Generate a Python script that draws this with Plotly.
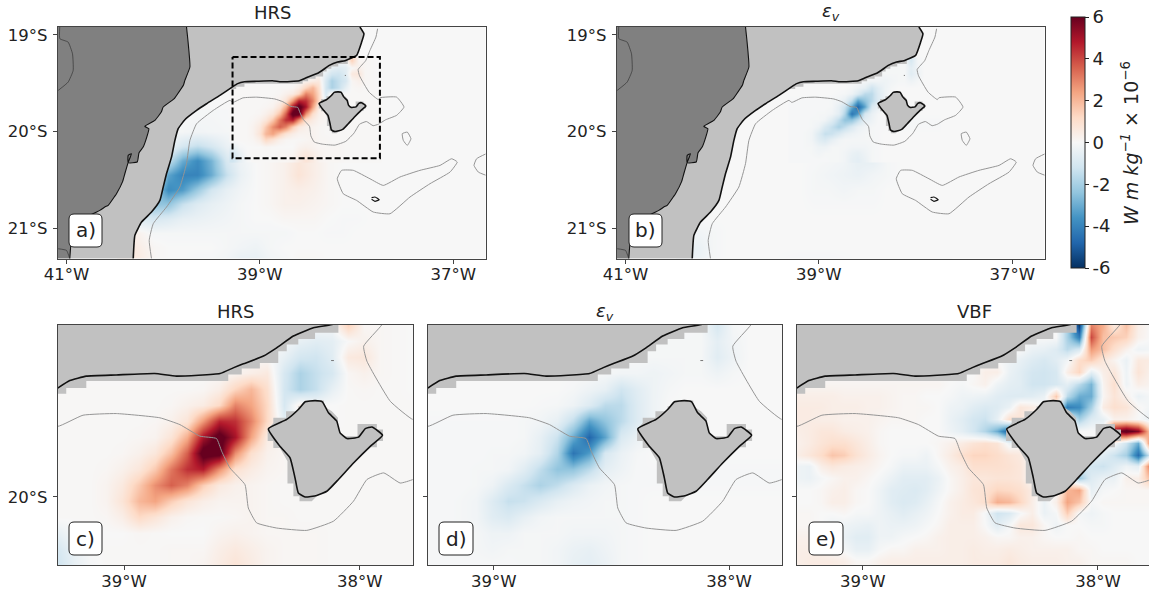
import numpy as np
import plotly.graph_objects as go

W, H = 1149, 594

# ---------- axes extents ----------
WIDE_LON = [-41.088, -36.667]
WIDE_LAT = [-21.315, -18.92]
ZOOM_LON = [-39.28, -37.776]
ZOOM_LAT = [-20.289, -19.27]

# ---------- field grids (values in W m/kg x 1e-6) ----------
GRID_LON = [-39.28 + 0.0683 * i for i in range(23)]
GRID_LAT = [-19.27 - 0.068 * j for j in range(16)]

HRS_ZOOM = [
    [0]*17 + [-.1, 1.4, .1, .1, .05, 0],
    [0]*14 + [-.1, -.5, -.7, -.6, 0, .3, .1, .05, 0],
    [0]*13 + [0, -.5, -1.1, -1.2, -.7, .6, .7, .1, .05, 0],
    [0]*11 + [.2, .4, .6, -1, -1.9, -1.4, -1, .1, .3, .1, .05, 0],
    [.05]*9 + [.1, .4, 1.3, 2, 1, -1.1, -1.9, -1.4, -.5, .05, .1, .05, .05, 0],
    [.05]*7 + [.1, .3, .5, 1.2, 3, 2.4, 1.2, -1, .4, 0, 0, .05, .05, .05, .05, .05],
    [.05]*6 + [.1, .3, .8, 2.6, 4.6, 4.4, 3, 1.2, -.6, 0, 0, 0, .05, .05, .05, .05, .05],
    [.05]*5 + [.1, .2, .8, 2.2, 5, 6.5, 5, 2.4, .5, .1, 0, 0, .05, .05, .05, .05, .05, .05],
    [.05]*4 + [.1, .3, .7, 1.8, 3.6, 6.5, 6.5, 2.8, 1, .3, .1, 0, 0, .05, .05, .05, .05, .05, .05],
    [.05]*3 + [.1, .3, .7, 1.6, 3.2, 4.4, 4.8, 2.8, 1, .5, .2, .1] + [.05]*8,
    [.05]*3 + [.2, .6, 1.6, 2.8, 3.6, 3, 1.5, .6, .3, .2, .1] + [.05]*9,
    [.05]*3 + [.2, .8, 2, 2.4, 1.5, .8, .4, .2, .2, .2, .1] + [.05]*9,
    [.05]*3 + [.1, .4, 1.2, .8, .3, .1, .05, .05, .1, .2, .1, .1] + [.05]*8,
    [-.5, -.1, 0, 0, 0, .1, .05, 0, 0, 0, .2, .3, .2, .1, .1, .1, .1] + [.05]*6,
    [-1, -.4, 0, .05, .05, .05, .05, .1, .1, .1, .4, .6, .4, .2, .1, .1, .1] + [.05]*6,
    [-1.2, -.5, -.1, .05, .05, .05, .05, .1, .1, .2, .5, .8, .5, .2, .1, .1, .1] + [.05]*6,
]

EPS_ZOOM = [
    [0]*17 + [-.1, -1, -.1, 0, 0, 0],
    [0]*14 + [-.1, -.1, -.1, -.1, -.6, -.2, 0, 0, 0],
    [0]*13 + [-.05, -.1, -.1, -.1, -.1, -.7, -.3, 0, 0, 0],
    [0]*11 + [-.1, -.2, -.2, -.3, -.2, -.1, -.1, -.3, -.1, 0, 0, 0],
    [0]*9 + [-.1, -.3, -.5, -1.2, -.7, -.3, -.1] + [0]*7,
    [0]*7 + [-.05, -.1, -.3, -.8, -1.6, -1.6, -.8, -.3, 0] + [0]*7,
    [-.05]*6 + [-.1, -.2, -.5, -1.5, -3.2, -2.4, -1.6, -.8, -.3, -.1] + [0]*7,
    [-.05]*5 + [-.05, -.1, -.5, -1.3, -3, -4.8, -3.2, -.9, -.4, -.1] + [0]*8,
    [-.05]*4 + [-.1, -.1, -.2, -.6, -1.8, -4.4, -3.4, -1, -.4, -.1] + [0]*9,
    [-.05]*3 + [-.1, -.1, -.2, -.7, -1.5, -2.4, -2.4, -1.6, -.6, -.3] + [-.05]*10,
    [-.05]*3 + [-.1, -.3, -.9, -1.4, -1.9, -1.5, -.9, -.4, -.2, -.1] + [-.05]*10,
    [-.05, -.05, -.1, -.2, -.8, -1.4, -1.3, -.9, -.5, -.3, -.2, -.1, -.1, -.05] + [0]*9,
    [-.05, -.05, -.1, -.2, -.7, -.9, -.5, -.2, -.1, -.1, -.1, -.1, -.1, -.05] + [0]*9,
    [-.05, -.05, -.1, -.1, -.3, -.3, -.1, -.1, -.1, -.2, -.2, -.2, -.1, -.05] + [0]*9,
    [-.05, -.05, -.05, -.1, -.2, -.1, -.1, -.1, -.2, -.4, -.5, -.3, -.1, -.05] + [0]*9,
    [-.05]*6 + [-.1, -.1, -.2, -.5, -.6, -.4, -.1, -.05] + [0]*9,
]

VBF_LON = [-39.28 + 0.05 * i for i in range(31)]
VBF_LAT = [-19.27 - 0.05 * j for j in range(21)]
VBF_ZOOM = [
    [0]*23 + [-2, -5.8, 3, 2.2, .6, 1.8, .4, 0],
    [0]*22 + [0, -2, -4.2, 4, 1.8, 1.6, 1.4, .3, 0],
    [0]*20 + [-.4, -.5, -.8, -1.6, -1, 2.6, 1.8, 1, .3, -.3, -.2],
    [0]*17 + [0, -.3, -.5, -.8, -1, -.7, -.2, 1.1, 1.5, .7, .2, -.4, .6, .5],
    [0]*16 + [.4, .4, -.4, -.7, -1.1, -1.2, -1, .4, 1.3, -.6, .4, .7, -.3, .8, .3],
    [.15]*13 + [0, -.1, .1, .3, -.3, -.6, -.7, -1.2, -1.2, -1, -.6, -1.6, -2.8, .2, 1, -.3, .4, .2],
    [.4, .4, .4, .4, .3, .3, .3, .3, .2, .1, .1, 0, 0, -.1, -.3, -.3, -.4, -.7, -.8, -.8, -.7, -.4, 1.6, -1.6, -3, -3, .1, .8, .3, -.4, -.1],
    [.5, .5, .5, .4, .4, .4, .3, .3, .2, .1, .1, .1, 0, -.3, -.4, -.7, -.9, -.8, -.4, .7, .5, 0, 0, -4.2, -3.8, -2, .5, 1, .8, .1, -.2],
    [.5, .5, .4, .4, .3, .3, .3, .2, .1, .1, .1, 0, 0, -.4, -.7, -1.1, -1.3, -.5, 1, .8, 0, 0, 0, 0, -2, -.8, -.5, .3, .3, 0, -.5],
    [.4, .5, .7, .7, .5, .4, .3, .1, 0, 0, 0, 0, 0, -.3, -.6, -1.1, -1.8, -3, -5, -3, 0, 0, 0, 0, 0, 0, 0, 5.5, 6.5, 5.5, 1.5],
    [.3, .5, .8, 1, 1, .7, .4, .1, 0, 0, 0, 0, .1, .3, .5, .8, 1, .8, -.3, 0, 0, 0, 0, 0, 0, 0, 0, 0, -1.2, -3, 3.2],
    [.4, .7, 1.1, 1.7, 1.5, .9, .5, .2, 0, -.1, -.1, -.3, .1, .5, 1, 1.3, 1.3, 1.1, .8, .6, 0, 0, 0, 0, 0, -.4, -.7, -1.3, -2, -4.6, -1],
    [-.3, -.4, .4, .7, .5, .4, .3, .1, -.1, -.4, -.4, -.4, -.1, .3, .5, 1, 1, 1, .9, .7, 0, 0, 0, 0, -.8, -1.1, -1.3, -.8, -.3, -.6, 3.4],
    [-.3, -.4, -.1, .1, .3, .3, .1, -.1, -.4, -.7, -.7, -.7, -.4, .1, .4, .7, .7, .8, .8, .7, 0, 0, 0, .4, -2.2, -.8, -.4, -.4, .3, .4, 1.9],
    [0, 0, .1, .3, .4, .1, 0, -.3, -.7, -.8, -.9, -.7, -.3, .1, .4, .8, .9, 1.3, 1.2, 1, .5, 0, 0, 2, 2.4, -.5, -.1, 0, .1, .1, .1],
    [0, 0, .1, .4, .4, .1, 0, -.3, -.7, -.9, -.8, -.5, -.1, .3, .5, .7, 1, 2.2, 2, 1.3, .4, -.4, .4, 2.4, 1.7, -.1, .1, .1, .1, .1, .1],
    [.1, .1, 0, 0, .1, -.1, -.1, -.3, -.5, -.7, -.5, -.3, 0, .3, .5, .5, -.1, -1.2, -.9, -.1, .4, -.4, -.1, 1.5, -.1, -.3, -.1, 0, 0, 0, 0],
    [.1, .1, 0, -.3, -.3, -.4, -.5, -.3, -.4, -.4, -.3, -.1, .1, .4, .4, .4, 0, -.7, -.1, .7, .7, .1, -.3, 0, 0, -.1, -.1, 0, 0, 0, 0],
    [.3, .3, 0, -.1, -.4, -.7, -.7, -.3, -.3, -.1, 0, .1, .3, .4, .4, .4, .3, .1, .1, .3, .3, .1, 0, 0, .1, 0, 0, 0, 0, 0, 0],
    [.4, .4, .3, 0, -.1, -.5, -.5, -.1, .1, .1, .3, .3, .3, .4, .4, .5, .4, .4, .5, .4, .3, .3, .3, .3, .1, .1, 0, 0, 0, 0, 0],
    [.4, .5, .5, .5, .4, .1, .1, .3, .4, .4, .4, .4, .4, .4, .4, .5, .5, .5, .7, .5, .4, .4, .4, .3, .3, .1, .1, .1, .1, 0, 0],
]

WIDE_GRID_LON = [-40.4, -40.25, -40.1, -39.95, -39.8, -39.65, -39.5, -39.35, -39.2, -39.05,
                 -38.9, -38.75, -38.6, -38.45, -38.3, -38.15, -38.0, -37.85, -37.7]
WIDE_GRID_LAT = [-19.85, -20.0, -20.15, -20.3, -20.45, -20.6, -20.75, -20.9, -21.05, -21.2, -21.35]
HRS_WIDE = [
    [0, 0, 0, 0, 0, -.1, -.1, -.05, 0, 0, 0, 0, 0, 0, 0, 0, 0, 0, 0],
    [0, 0, 0, 0, -.1, -.2, -.15, -.1, -.1, 0, 0, 0, 0, 0, 0, 0, 0, 0, 0],
    [0, 0, 0, -.3, -1, -1.4, -1, -.4, -.1, 0, .1, .1, .2, .1, 0, 0, 0, 0, 0],
    [0, 0, 0, -1.4, -3, -3.8, -2.8, -1, -.3, 0, .1, .3, .7, .4, .1, 0, 0, 0, 0],
    [0, 0, -.5, -3.2, -4, -4, -3, -1.4, -.4, 0, .1, .3, .8, .4, .1, 0, 0, 0, 0],
    [0, 0, -2, -3.8, -3.4, -2.2, -1.1, -.5, -.2, 0, .1, .3, .4, .3, .1, 0, 0, 0, 0],
    [0, -.7, -2.4, -2.4, -1.4, -.8, -.5, -.3, -.1, 0, .1, .3, .3, .2, .1, 0, 0, 0, 0],
    [0, -.8, -1, -.8, -.5, -.4, -.3, -.2, -.1, 0, 0, .1, .1, .1, 0, -.05, -.05, 0, 0],
    [.4, .2, -.1, -.1, -.1, -.1, -.1, -.1, -.1, -.1, -.1, -.1, 0, 0, -.05, -.05, 0, 0, 0],
    [.8, .4, .1, 0, 0, 0, 0, -.1, -.2, -.3, -.1, 0, 0, 0, 0, 0, 0, 0, 0],
    [.7, .5, .1, 0, 0, -.1, -.1, -.2, -.5, -.5, -.2, -.1, .1, .1, 0, 0, 0, 0, 0],
]
EPS_WIDE = [
    [0]*19,
    [0]*19,
    [0]*8 + [-.05]*3 + [0]*8,
    [0]*9 + [-.05, -.1, -.2, -.5, -.5, -.1, 0, 0, 0, 0],
    [0]*9 + [-.1, -.2, -.3, -.4, -.2, -.1, 0, 0, 0, 0],
    [0]*9 + [-.1, -.1, -.2, -.1, -.1, 0, 0, 0, 0, 0],
    [0]*9 + [-.05, -.05, -.05, -.05, -.05, 0, 0, 0, 0, 0],
    [0]*19,
    [-.1, -.2, -.1] + [0]*16,
    [-.5, -.4, -.1] + [0]*16,
    [-.4, -.3, -.1, 0, 0, 0, 0, -.05, -.1, -.1, -.1, -.05] + [0]*7,
]

# ---------- geography ----------
SHELF_LON = [-40.31, -40.293, -40.224, -40.121, -40.034, -40.0, -39.966, -39.914, -39.879, -39.845,
             -39.776, -39.655, -39.552, -39.414, -39.28, -39.23, -39.16, -39.033, -38.87, -38.778,
             -38.593, -38.537, -38.494, -38.409, -38.353, -38.282, -38.197, -38.119, -38.0, -37.948,
             -37.924, -37.966]
SHELF_LAT = [-21.317, -21.076, -20.938, -20.834, -20.714, -20.576, -20.438, -20.266, -20.093, -19.972,
             -19.879, -19.783, -19.714, -19.628, -19.537, -19.506, -19.487, -19.482, -19.476, -19.487,
             -19.476, -19.452, -19.435, -19.402, -19.367, -19.317, -19.282, -19.268, -19.214, -19.076,
             -18.99, -18.92]
MASK_LON = [-39.30, -39.245, -39.245, -39.16, -39.16, -38.558, -38.558, -38.501, -38.501, -38.424, -38.424,
            -38.346, -38.346, -38.310, -38.310, -38.261, -38.261, -38.190, -38.190, -38.091, -38.091, -39.30]
MASK_LAT = [-19.562, -19.562, -19.537, -19.537, -19.508, -19.508, -19.480, -19.480, -19.455, -19.455, -19.431,
            -19.431, -19.381, -19.381, -19.353, -19.353, -19.329, -19.329, -19.303, -19.303, -19.2, -19.2]
ISLAND_LON = [-38.388, -38.310, -38.261, -38.232, -38.190, -38.159, -38.133, -38.098, -38.084, -38.055, -38.006,
              -37.977, -37.949, -37.904, -37.956, -38.027, -38.091, -38.140, -38.183, -38.232, -38.261, -38.275,
              -38.296, -38.339, -38.388]
ISLAND_LAT = [-19.711, -19.671, -19.629, -19.596, -19.591, -19.596, -19.643, -19.678, -19.728, -19.752, -19.746,
              -19.710, -19.703, -19.738, -19.785, -19.856, -19.926, -19.976, -19.994, -20.0, -19.983, -19.919,
              -19.834, -19.785, -19.711]
ISLAND_MASK_LON = [-38.232, -38.152, -38.152, -38.119, -38.093, -38.093, -38.069, -38.010, -38.010, -37.928, -37.928,
                   -37.902, -37.902, -37.928, -37.928, -37.977, -38.027, -38.091, -38.119, -38.183, -38.204, -38.256,
                   -38.256, -38.282, -38.282, -38.307, -38.307, -38.339, -38.367, -38.367, -38.391, -38.391, -38.367,
                   -38.367, -38.313, -38.313, -38.261, -38.261, -38.232, -38.232]
ISLAND_MASK_LAT = [-19.591, -19.591, -19.615, -19.636, -19.664, -19.714, -19.742, -19.742, -19.690, -19.690, -19.714,
                   -19.714, -19.763, -19.763, -19.789, -19.789, -19.848, -19.926, -19.962, -19.997, -20.018, -20.018,
                   -19.997, -19.997, -19.943, -19.943, -19.848, -19.792, -19.792, -19.763, -19.763, -19.714, -19.686,
                   -19.664, -19.664, -19.636, -19.636, -19.615, -19.615, -19.591]
LAND_LON = [-41.1, -39.759, -39.741, -39.724, -39.776, -39.79, -39.862, -39.885, -40.0, -40.02, -40.086, -40.19, -40.148,
            -40.17, -40.207, -40.25, -40.269, -40.362, -40.362, -40.328, -40.362, -40.397, -40.42, -40.483, -40.50, -40.569,
            -40.60, -40.655, -40.759, -40.86, -40.948, -40.966, -41.1]
LAND_LAT = [-18.92, -18.92, -19.093, -19.334, -19.472, -19.52, -19.628, -19.66, -19.748, -19.80, -19.886, -19.948, -19.972,
            -20.06, -20.162, -20.22, -20.317, -20.324, -20.248, -20.231, -20.32, -20.438, -20.52, -20.645, -20.67, -20.766,
            -20.78, -20.817, -20.869, -20.99, -21.128, -21.317, -21.317]
BORDER1_LON = [-41.07, -41.069, -40.983, -40.938, -40.931, -40.983, -41.086]
BORDER1_LAT = [-18.92, -19.041, -19.076, -19.197, -19.369, -19.49, -19.576]
BORDER2_LON = [-41.086, -41.0, -40.966]
BORDER2_LAT = [-21.214, -21.231, -21.317]
ISOBATH_LON = [-37.783, -37.8, -37.862, -37.906, -37.984, -37.970, -37.871, -37.775, -37.759, -37.586, -37.510, -37.586,
               -37.70, -37.775, -37.829, -37.899, -37.970, -38.027, -38.112, -38.225, -38.353, -38.438, -38.473, -38.487,
               -38.551, -38.586, -38.608, -38.678, -38.763, -38.848, -39.033, -39.174, -39.28, -39.310, -39.483, -39.655,
               -39.724, -39.759, -39.828, -39.966, -40.103, -40.145, -40.121]
ISOBATH_LAT = [-18.938, -19.024, -19.162, -19.268, -19.36, -19.424, -19.594, -19.671, -19.652, -19.645, -19.748, -19.834,
               -19.88, -19.926, -19.941, -19.898, -19.926, -20.018, -20.103, -20.142, -20.132, -20.110, -20.047, -19.948,
               -19.877, -19.806, -19.752, -19.742, -19.693, -19.664, -19.646, -19.653, -19.70, -19.679, -19.783, -19.921,
               -20.093, -20.334, -20.576, -20.783, -20.955, -21.128, -21.317]
OVAL_LON = [-37.528, -37.476, -37.438, -37.476, -37.517, -37.528]
OVAL_LAT = [-20.024, -20.007, -20.076, -20.145, -20.093, -20.024]
EDGE_LON = [-36.66, -36.759, -36.786, -36.741, -36.66]
EDGE_LAT = [-20.231, -20.283, -20.352, -20.421, -20.455]
BLOB_LON = [-38.2, -38.155, -38.034, -37.862, -37.724, -37.552, -37.345, -37.138, -37.017, -36.959, -37.034, -37.241,
            -37.448, -37.655, -37.828, -38.0, -38.138, -38.2]
BLOB_LAT = [-20.49, -20.403, -20.403, -20.49, -20.559, -20.472, -20.403, -20.352, -20.283, -20.317, -20.421, -20.541,
            -20.679, -20.852, -20.834, -20.714, -20.645, -20.49]
SEAMOUNT_LON = [-37.845, -37.81, -37.766, -37.81, -37.845]
SEAMOUNT_LAT = [-20.686, -20.679, -20.707, -20.724, -20.703]
DOT_LON = [-38.122, -38.110]
DOT_LAT = [-19.421, -19.421]
BOX_LON = [-39.283, -37.759, -37.759, -39.283, -39.283]
BOX_LAT = [-19.231, -19.231, -20.279, -20.279, -19.231]

# ---------- style ----------
RDBU_R = ["#053061", "#2166ac", "#4393c3", "#92c5de", "#d1e5f0", "#f7f7f7",
          "#fddbc7", "#f4a582", "#d6604d", "#b2182b", "#67001f"]
LIGHT, DARK, ISO = "#c1c1c1", "#808080", "#959595"
FONT = "DejaVu Sans"
SPINE = "#444444"

PANELS = [  # suffix, px left, px right, px top, px bottom, xrange, yrange
    ("", 58, 485.5, 27, 258.5, WIDE_LON, WIDE_LAT),
    ("2", 617, 1044.5, 27, 258.5, WIDE_LON, WIDE_LAT),
    ("3", 58, 412.7, 325, 565, ZOOM_LON, ZOOM_LAT),
    ("4", 428, 781.7, 325, 565, ZOOM_LON, ZOOM_LAT),
    ("5", 797, 1149, 325, 565, [-39.28, -37.783], ZOOM_LAT),
]

fig = go.Figure()


def heat(sfx, lon, lat, z):
    fig.add_trace(go.Heatmap(x=lon, y=lat, z=z, coloraxis="coloraxis", zsmooth="best",
                             xaxis="x" + sfx, yaxis="y" + sfx, hoverinfo="skip"))


def fill(sfx, lon, lat, color):
    fig.add_trace(go.Scatter(x=lon, y=lat, mode="lines", line=dict(width=0, color=color), fill="toself",
                             fillcolor=color, xaxis="x" + sfx, yaxis="y" + sfx, showlegend=False, hoverinfo="skip"))


def line(sfx, lon, lat, color, width, dash=None):
    fig.add_trace(go.Scatter(x=lon, y=lat, mode="lines", line=dict(width=width, color=color, dash=dash, shape="spline", smoothing=0.4) if dash is None
                             else dict(width=width, color=color, dash=dash),
                             xaxis="x" + sfx, yaxis="y" + sfx, showlegend=False, hoverinfo="skip"))


heat("", WIDE_GRID_LON, WIDE_GRID_LAT, HRS_WIDE)
heat("", GRID_LON, GRID_LAT, HRS_ZOOM)
heat("2", WIDE_GRID_LON, WIDE_GRID_LAT, EPS_WIDE)
heat("2", GRID_LON, GRID_LAT, EPS_ZOOM)
heat("3", GRID_LON, GRID_LAT, HRS_ZOOM)
heat("4", GRID_LON, GRID_LAT, EPS_ZOOM)
heat("5", VBF_LON, VBF_LAT, VBF_ZOOM)

for sfx, *_ in PANELS:
    wide = sfx in ("", "2")
    fill(sfx, SHELF_LON + [-41.1, -41.1], SHELF_LAT[:-1] + [-18.92, -18.92, -21.317], LIGHT)
    fill(sfx, MASK_LON, MASK_LAT, LIGHT)
    fill(sfx, ISLAND_MASK_LON, ISLAND_MASK_LAT, LIGHT)
    fill(sfx, ISLAND_LON, ISLAND_LAT, LIGHT)
    line(sfx, ISOBATH_LON, ISOBATH_LAT, ISO, 1)
    line(sfx, SHELF_LON, SHELF_LAT, "#111111", 1.6)
    line(sfx, ISLAND_LON, ISLAND_LAT, "#111111", 1.6)
    line(sfx, DOT_LON, DOT_LAT, "#777777", 1)
    if wide:
        fill(sfx, LAND_LON, LAND_LAT, DARK)
        line(sfx, LAND_LON[1:-1], LAND_LAT[1:-1], "#111111", 1.1)
        line(sfx, BORDER1_LON, BORDER1_LAT, "#333333", 0.7)
        line(sfx, BORDER2_LON, BORDER2_LAT, "#333333", 0.7)
        line(sfx, OVAL_LON, OVAL_LAT, ISO, 1)
        line(sfx, EDGE_LON, EDGE_LAT, ISO, 1)
        line(sfx, BLOB_LON, BLOB_LAT, ISO, 1)
        line(sfx, SEAMOUNT_LON, SEAMOUNT_LAT, "#111111", 1.2)

line("", BOX_LON, BOX_LAT, "#000000", 2, dash="6px,3px")

layout = dict(
    width=W, height=H, margin=dict(l=0, r=0, t=0, b=0, autoexpand=False),
    paper_bgcolor="white", plot_bgcolor="#f7f7f7", showlegend=False,
    font=dict(family=FONT, size=16.5, color="#222222"),
    coloraxis=dict(
        cmin=-6, cmax=6, colorscale=RDBU_R,
        colorbar=dict(
            x=1071 / W, xanchor="left", xpad=0, y=1 - 17 / H, yanchor="top", ypad=0,
            len=251 / H, lenmode="fraction", thickness=14, thicknessmode="pixels",
            outlinecolor="#222222", outlinewidth=1,
            tickvals=[6, 4, 2, 0, -2, -4, -6], ticktext=["6", "4", "2", "0", "-2", "-4", "-6"],
            ticks="outside", ticklen=4, tickcolor="#222222", tickfont=dict(size=18, family=FONT),
        ),
    ),
)

for sfx, l, r, t, b, xr, yr in PANELS:
    wide = sfx in ("", "2")
    xticks = [-41, -39, -37] if wide else [-39, -38]
    yticks = [-19, -20, -21] if wide else [-20]
    ylabels = ["19°S", "20°S", "21°S"] if wide else (["20°S"] if sfx == "3" else [" "])
    layout["xaxis" + sfx] = dict(
        domain=[l / W, r / W], range=xr, anchor="y" + sfx, showgrid=False, zeroline=False,
        tickvals=xticks, ticktext=[f"{abs(v)}°W" for v in xticks], ticks="outside", ticklen=4,
        ticklabelstandoff=-3,
        tickcolor=SPINE, showline=True, linecolor=SPINE, linewidth=1.2, mirror=True,
        tickfont=dict(size=16.5, family=FONT))
    layout["yaxis" + sfx] = dict(
        domain=[1 - b / H, 1 - t / H], range=yr, anchor="x" + sfx, showgrid=False, zeroline=False,
        tickvals=yticks, ticktext=ylabels, ticks="outside", ticklen=4,
        ticklabelstandoff=2,
        tickcolor=SPINE, showline=True, linecolor=SPINE, linewidth=1.2, mirror=True,
        tickfont=dict(size=16.5, family=FONT))

TITLES = [("HRS", 272, 12), ("<i>ε<sub>v</sub></i>", 831, 12), ("HRS", 235, 311),
          ("<i>ε<sub>v</sub></i>", 605, 312), ("VBF", 974, 311)]
LABELS = [("a)", 69, 102, 214, 247), ("b)", 629, 662, 214, 247), ("c)", 69, 102, 522, 555),
          ("d)", 439, 473, 522, 555), ("e)", 809, 843, 522, 555)]

annotations = [dict(text=t, x=px / W, y=1 - py / H, xref="paper", yref="paper", showarrow=False,
                    xanchor="center", yanchor="middle", font=dict(size=18, family=FONT, color="#222222"))
               for t, px, py in TITLES]
annotations.append(dict(text="<i>W m kg<sup>−1</sup></i> × 10<sup>−6</sup>", x=1130 / W, y=1 - 143 / H,
                        xref="paper", yref="paper", showarrow=False, textangle=-90,
                        xanchor="center", yanchor="middle", font=dict(size=19, family=FONT, color="#222222")))
shapes = []
for t, x0, x1, y0, y1 in LABELS:
    c = 5
    X0, X1, CX0, CX1 = x0 / W, x1 / W, (x0 + c) / W, (x1 - c) / W
    Y0, Y1, CY0, CY1 = 1 - y0 / H, 1 - y1 / H, 1 - (y0 + c) / H, 1 - (y1 - c) / H
    path = (f"M {CX0} {Y0} L {CX1} {Y0} Q {X1} {Y0} {X1} {CY0} L {X1} {CY1} Q {X1} {Y1} {CX1} {Y1} "
            f"L {CX0} {Y1} Q {X0} {Y1} {X0} {CY1} L {X0} {CY0} Q {X0} {Y0} {CX0} {Y0} Z")
    shapes.append(dict(type="path", path=path, xref="paper", yref="paper", fillcolor="white",
                       line=dict(color="#222222", width=1), layer="above"))
    annotations.append(dict(text=t, x=(x0 + x1) / 2 / W, y=1 - (y0 + y1) / 2 / H, xref="paper", yref="paper",
                            showarrow=False, xanchor="center", yanchor="middle",
                            font=dict(size=20, family=FONT, color="#222222")))
layout["annotations"] = annotations
layout["shapes"] = shapes
fig.update_layout(**layout)

fig.write_html("out.html", config={"displayModeBar": False},
               post_script="document.body.style.margin='0';document.body.style.overflow='hidden';")
